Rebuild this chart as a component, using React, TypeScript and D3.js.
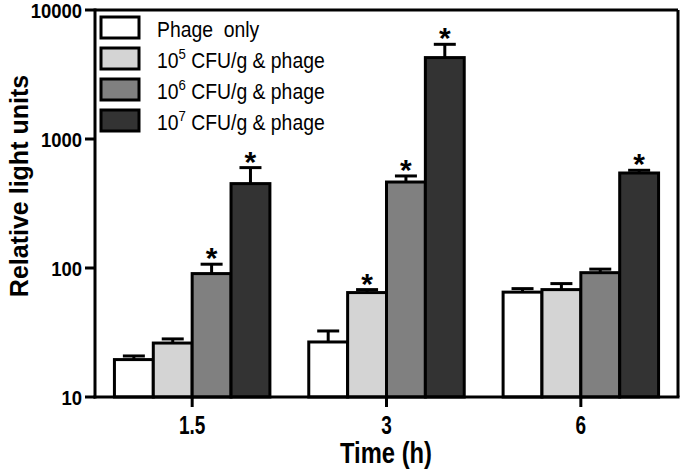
import React from "react";
import * as d3 from "d3";

const categories = ["1.5", "3", "6"];
const seriesNames = ["Phage only", "10^5 CFU/g & phage", "10^6 CFU/g & phage", "10^7 CFU/g & phage"];
const seriesExp = ["", "5", "6", "7"];
const seriesColors = ["#ffffff", "#d4d4d4", "#808080", "#333333"];
const phageOnly = [19.5, 26.7, 65];
const phage1e5 = [26.2, 64.5, 68];
const phage1e6 = [90.5, 464, 92];
const phage1e7 = [451, 4276, 545];
const errPhageOnly = [20.8, 32.5, 69.2];
const errPhage1e5 = [28.2, 68, 75.7];
const errPhage1e6 = [107, 517, 98];
const errPhage1e7 = [600, 5420, 572];
const starPhageOnly = [false, false, false];
const starPhage1e5 = [false, true, false];
const starPhage1e6 = [true, true, false];
const starPhage1e7 = [true, true, true];
const yTicks = [10, 100, 1000, 10000];

const values = [phageOnly, phage1e5, phage1e6, phage1e7];
const errors = [errPhageOnly, errPhage1e5, errPhage1e6, errPhage1e7];
const stars = [starPhageOnly, starPhage1e5, starPhage1e6, starPhage1e7];

const W = 680, H = 474;
const L = 95, R = 678, T = 10, B = 397;
const font = "'Liberation Sans', Arial, sans-serif";

function NText(props: { x: number; y: number; sx: number; size: number; anchor?: string; weight?: string; children: React.ReactNode }) {
  return (
    <g transform={`translate(${props.x},${props.y}) scale(${props.sx},1)`}>
      <text x={0} y={0} textAnchor={props.anchor || "start"} fontFamily={font} fontWeight={props.weight || "normal"} fontSize={props.size} fill="#000">
        {props.children}
      </text>
    </g>
  );
}

export default function App() {
  const x = d3.scaleBand<string>().domain(categories).range([L, R]).paddingInner(0.2).paddingOuter(0.1);
  const xs = d3.scaleBand<number>().domain([0, 1, 2, 3]).range([0, x.bandwidth()]);
  const y = d3.scaleLog().domain([10, 10000]).range([B, T]);
  const sw = 3;
  const capW = 22;

  return (
    <svg width={W} height={H} style={{ position: "absolute", left: 0, top: 0, background: "#fff" }}>
      {/* bars */}
      {categories.map((c, ci) =>
        values.map((vals, si) => {
          const x0 = (x(c) as number) + (xs(si) as number);
          const bw = xs.bandwidth();
          const cx = x0 + bw / 2;
          const yv = y(vals[ci]);
          const ye = y(errors[si][ci]);
          return (
            <g key={c + si}>
              <line x1={cx} x2={cx} y1={yv} y2={ye} stroke="#000" strokeWidth={sw} />
              <line x1={cx - capW / 2} x2={cx + capW / 2} y1={ye} y2={ye} stroke="#000" strokeWidth={sw} />
              <rect x={x0} y={yv} width={bw} height={B - yv} fill={seriesColors[si]} stroke="#000" strokeWidth={sw} />
              {stars[si][ci] && (
                <text x={cx} y={ye + 4} textAnchor="middle" fontFamily={font} fontWeight="bold" fontSize={30} fill="#000">*</text>
              )}
            </g>
          );
        })
      )}
      {/* frame */}
      <line x1={L} x2={R} y1={T} y2={T} stroke="#000" strokeWidth={sw} />
      <line x1={R} x2={R} y1={T} y2={B} stroke="#000" strokeWidth={sw} />
      <line x1={L} x2={L} y1={T - 1.5} y2={B + 1.5} stroke="#000" strokeWidth={sw} />
      <line x1={L - 1.5} x2={R + 1.5} y1={B} y2={B} stroke="#000" strokeWidth={sw} />
      {/* y ticks */}
      {yTicks.map((t) => (
        <g key={t}>
          <line x1={L - 10} x2={L} y1={y(t)} y2={y(t)} stroke="#000" strokeWidth={sw} />
          <NText x={L - 13} y={y(t) + 8} sx={0.88} size={21} anchor="end" weight="bold">{d3.format("d")(t)}</NText>
        </g>
      ))}
      {/* x ticks */}
      {categories.map((c) => {
        const cx = (x(c) as number) + x.bandwidth() / 2;
        return (
          <g key={c}>
            <line x1={cx} x2={cx} y1={B} y2={B + 10} stroke="#000" strokeWidth={sw} />
            <NText x={cx} y={434} sx={0.76} size={25} anchor="middle" weight="bold">{c}</NText>
          </g>
        );
      })}
      {/* axis titles */}
      <NText x={386} y={463} sx={0.82} size={29} anchor="middle" weight="bold">Time (h)</NText>
      <text transform="translate(28,186) rotate(-90)" textAnchor="middle" fontFamily={font} fontWeight="bold" fontSize={25} fill="#000">Relative light units</text>
      {/* legend */}
      {seriesNames.map((n, i) => {
        const ly = 17 + i * 31;
        const parts = n.split("^");
        return (
          <g key={n}>
            <rect x={101} y={ly} width={38} height={21} fill={seriesColors[i]} stroke="#000" strokeWidth={sw} />
            <NText x={157} y={ly + 20} sx={0.88} size={22}>
              {seriesExp[i] === "" ? (
                n.replace(" ", "\u00a0 ")
              ) : (
                <>
                  <tspan>10</tspan>
                  <tspan dy={-9} fontSize={15}>{seriesExp[i]}</tspan>
                  <tspan dy={9}>{" " + parts[1].slice(1).trim()}</tspan>
                </>
              )}
            </NText>
          </g>
        );
      })}
    </svg>
  );
}
